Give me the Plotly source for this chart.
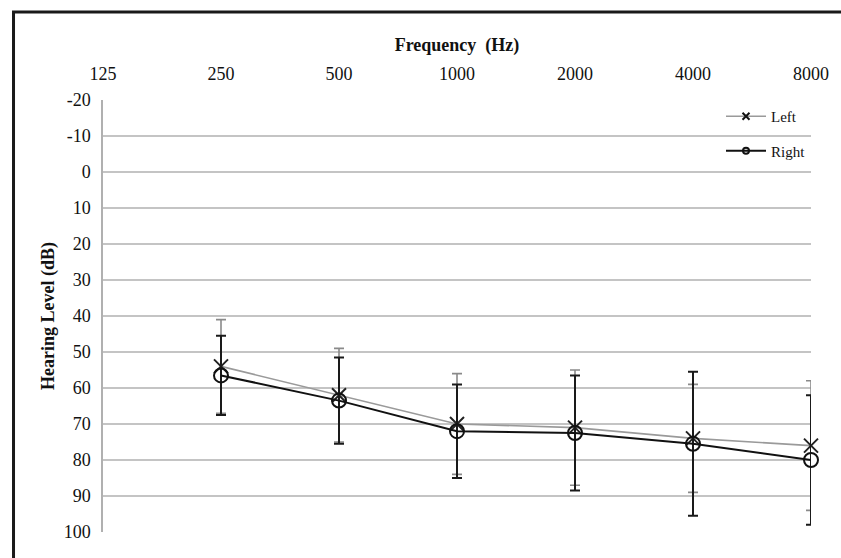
import plotly.graph_objects as go

freq_labels = ["125", "250", "500", "1000", "2000", "4000", "8000"]
data_freqs = ["250", "500", "1000", "2000", "4000", "8000"]
left_mean = [54, 62, 70, 71, 74, 76]
left_sd = [13, 13, 14, 16, 15, 18]
right_mean = [56.5, 63.5, 72, 72.5, 75.5, 80]
right_sd = [11, 12, 13, 16, 20, 18]
y_ticks = [-20, -10, 0, 10, 20, 30, 40, 50, 60, 70, 80, 90, 100]
y_ticktext = ["-20", "-10", "0", "10", "20", "30", "40", "50", "60", "70", "80", "90", "100"]

W, H = 841, 558
ML, MR, MT, MB = 103, 18, 100, 26
pw, ph = W - ML - MR, H - MT - MB

FONT = "Liberation Serif, Times New Roman, serif"

fig = go.Figure()
fig.add_trace(go.Scatter(
    x=data_freqs, y=left_mean, name="Left", mode="lines+markers",
    line=dict(color="#9a9a9a", width=1.6),
    marker=dict(symbol="x-thin", size=14, line=dict(color="#222222", width=2)),
    error_y=dict(type="data", array=left_sd, visible=True, color="#8a8a8a", thickness=1.6, width=5),
    showlegend=False, cliponaxis=False,
))
fig.add_trace(go.Scatter(
    x=data_freqs, y=right_mean, name="Right", mode="lines+markers",
    line=dict(color="#111111", width=2),
    marker=dict(symbol="circle-open", size=14, color="#111111", line=dict(color="#111111", width=2)),
    error_y=dict(type="data", array=right_sd, visible=True, color="#1a1a1a", thickness=2, width=5),
    showlegend=False, cliponaxis=False,
))
# legend entries with small symbols, as in the reference
fig.add_trace(go.Scatter(
    x=[None], y=[None], name="Left", mode="lines+markers",
    line=dict(color="#9a9a9a", width=1.6),
    marker=dict(symbol="x-thin", size=7, line=dict(color="#111111", width=2)),
    legendgroup="L",
))
fig.add_trace(go.Scatter(
    x=[None], y=[None], name="Right", mode="lines+markers",
    line=dict(color="#111111", width=2),
    marker=dict(symbol="circle-open", size=6, color="#111111", line=dict(color="#111111", width=2)),
    legendgroup="R",
))

# outer frame (top-left corner visible)
fig.add_shape(type="rect", xref="paper", yref="paper",
              x0=(12 - ML) / pw, x1=(W + 20 - ML) / pw,
              y0=-(MB + 20) / ph, y1=1 + (MT - 12) / ph,
              line=dict(color="#1a1a1a", width=3), fillcolor="rgba(0,0,0,0)", layer="above")

fig.update_layout(
    width=W, height=H, autosize=False,
    margin=dict(l=ML, r=MR, t=MT, b=MB, pad=0),
    paper_bgcolor="white", plot_bgcolor="white",
    font=dict(family=FONT, size=18, color="#111111"),
    showlegend=True,
    legend=dict(x=1, y=1, xanchor="right", yanchor="top", bgcolor="rgba(0,0,0,0)",
                font=dict(size=15), tracegroupgap=12, itemwidth=40),
    xaxis=dict(type="category", categoryorder="array", categoryarray=freq_labels,
               range=[0, 6], side="top", showgrid=False, zeroline=False, showline=False,
               ticks="", tickfont=dict(size=18), ticklabelstandoff=15,
               title=dict(text="<b>Frequency  (Hz)</b>", font=dict(size=18), standoff=8)),
    yaxis=dict(range=[100, -20], tickmode="array", tickvals=y_ticks, ticktext=y_ticktext,
               showgrid=True, gridcolor="#c4c4c4", gridwidth=1.5,
               zeroline=False, showline=True, linecolor="#b0b0b0", linewidth=1.5,
               ticks="", ticklabelstandoff=7, tickfont=dict(size=18),
               title=dict(text="<b>Hearing Level (dB)</b>", font=dict(size=18), standoff=4)),
)

fig.write_html("out.html", config={"displayModeBar": False},
               post_script="document.body.style.margin='0';document.body.style.overflow='hidden';")
